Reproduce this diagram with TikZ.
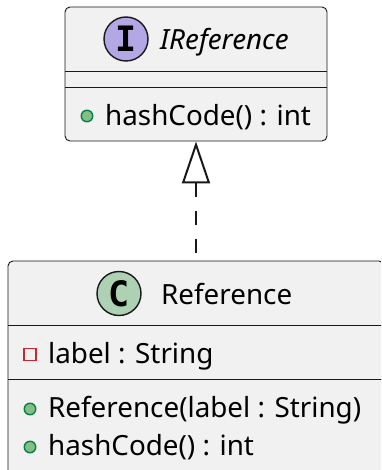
\documentclass[tikz,border=0pt]{standalone}
\usepackage{fontspec}
\setmainfont{Noto Sans}
\newfontfamily\spotfont{DejaVu Sans Mono}
\usetikzlibrary{arrows.meta}
\definecolor{boxfill}{HTML}{F1F1F1}
\definecolor{ink}{HTML}{181818}
\definecolor{spotI}{HTML}{B4A7E5}
\definecolor{spotC}{HTML}{ADD1B2}
\definecolor{pubfill}{HTML}{84BE84}
\definecolor{publine}{HTML}{038048}
\definecolor{privline}{HTML}{C82930}
\tikzset{
  x=1pt,y=-1pt,
  classbox/.style={draw=ink,fill=boxfill,line width=0.9pt,rounded corners=5pt,inner sep=0pt,outer sep=0pt},
  sep/.style={draw=ink,line width=0.7pt},
  spot/.style={circle,draw=ink,line width=1.4pt,minimum size=44pt,inner sep=0pt,font=\spotfont\bfseries\fontsize{35}{35}\selectfont},
  txt/.style={anchor=base west,inner sep=0pt,text=black,font=\fontsize{27.8}{30}\selectfont},
  pub/.style={circle,draw=publine,fill=pubfill,line width=1.4pt,minimum size=11.5pt,inner sep=0pt},
  priv/.style={rectangle,draw=privline,line width=1.4pt,minimum size=12pt,inner sep=0pt},
}
\begin{document}
\begin{tikzpicture}
\useasboundingbox (0,0) rectangle (381,470);
\clip (0,0) rectangle (381,470);
\node[classbox,minimum width=262pt,minimum height=134pt] (ifacebox) at (196,74) {};
\node[classbox,minimum width=376pt,minimum height=214pt] (refbox) at (196,368) {};
\draw[sep] (ifacebox.west |- 0,71) coordinate (a1) -- (ifacebox.east |- 0,71) coordinate (a2);
\draw[sep] (ifacebox.west |- 0,87) coordinate (a3) -- (ifacebox.east |- 0,87) coordinate (a4);
\draw[sep] (refbox.west |- 0,325) coordinate (b1) -- (refbox.east |- 0,325) coordinate (b2);
\draw[sep] (refbox.west |- 0,379) coordinate (b3) -- (refbox.east |- 0,379) coordinate (b4);
\node[spot,fill=spotI] (ispot) at (126,39) {I};
\node[txt,font=\fontsize{27.8}{30}\selectfont\itshape] (iname) at (160,50) {IReference};
\node[pub] (m1) at (87,116) {};
\node[txt] (t1) at (105,125.5) {hashCode() : int};
\node[spot,fill=spotC] (cspot) at (119,293.5) {C};
\node[txt] (cname) at (161,304) {Reference};
\node[priv] (f1) at (30,354.5) {};
\node[txt] (t2) at (48,363.5) {label : String};
\node[pub] (m2) at (30,409) {};
\node[txt] (t3) at (48,417.5) {Reference(label : String)};
\node[pub] (m3) at (30,447) {};
\node[txt] (t4) at (48,455.5) {hashCode() : int};
\draw[draw=ink,line width=2pt,dash pattern=on 13.5pt off 14.5pt,
  {Triangle[open,fill=white,length=42pt,width=28pt,line width=2pt]}-,shorten <=0.5pt]
  (ifacebox.south) -- (refbox.north);
\end{tikzpicture}
\end{document}
